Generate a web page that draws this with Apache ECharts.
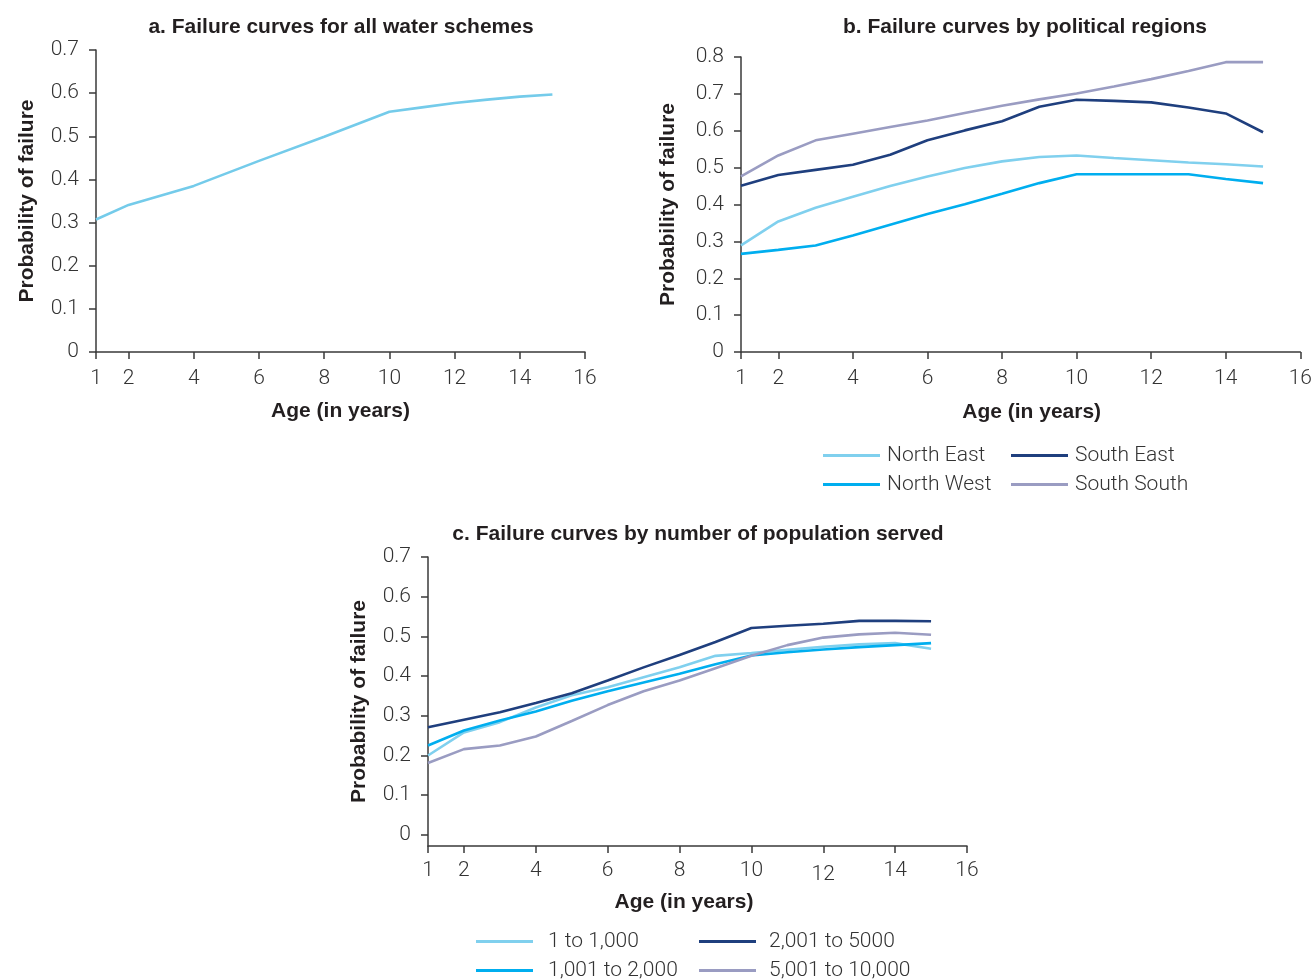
<!DOCTYPE html>
<html>
<head>
<meta charset="utf-8">
<title>Failure curves</title>
<script src="https://cdn.jsdelivr.net/npm/echarts@6/dist/echarts.min.js"></script>
<style>
  html, body { margin: 0; padding: 0; background: #fff; }
  #chart { width: 1315px; height: 980px; }
</style>
</head>
<body>
<div id="chart"></div>
<script>
// Age (years) at which each curve is sampled
const ages = [1, 2, 3, 4, 5, 6, 7, 8, 9, 10, 11, 12, 13, 14, 15];
const xTicks = [1, 2, 4, 6, 8, 10, 12, 14, 16];
const yTicks7 = [0, 0.1, 0.2, 0.3, 0.4, 0.5, 0.6, 0.7];
const yTicks8 = [0, 0.1, 0.2, 0.3, 0.4, 0.5, 0.6, 0.7, 0.8];

// a. all water schemes
const agesAll = [1, 2, 4, 6, 8, 10, 11, 12, 13, 14, 15];
const allSchemes = [0.307, 0.341, 0.385, 0.443, 0.499, 0.557, 0.567, 0.577, 0.585, 0.592, 0.597];

// b. political regions
const northEast  = [0.289, 0.354, 0.391, 0.421, 0.450, 0.476, 0.499, 0.517, 0.529, 0.533, 0.526, 0.520, 0.514, 0.509, 0.503];
const northWest  = [0.266, 0.277, 0.289, 0.316, 0.345, 0.374, 0.401, 0.429, 0.458, 0.482, 0.482, 0.482, 0.482, 0.469, 0.458];
const southEast  = [0.451, 0.480, 0.494, 0.508, 0.535, 0.574, 0.601, 0.626, 0.665, 0.684, 0.681, 0.677, 0.663, 0.647, 0.596];
const southSouth = [0.476, 0.533, 0.574, 0.592, 0.610, 0.628, 0.648, 0.668, 0.685, 0.701, 0.720, 0.740, 0.762, 0.786, 0.786];

// c. population served
const pop1to1000     = [0.200, 0.258, 0.284, 0.321, 0.352, 0.372, 0.397, 0.422, 0.451, 0.458, 0.466, 0.474, 0.480, 0.483, 0.469];
const pop1001to2000  = [0.225, 0.263, 0.288, 0.311, 0.338, 0.362, 0.384, 0.406, 0.430, 0.452, 0.460, 0.467, 0.473, 0.478, 0.483];
const pop2001to5000  = [0.271, 0.290, 0.309, 0.332, 0.357, 0.389, 0.422, 0.453, 0.486, 0.521, 0.527, 0.532, 0.539, 0.539, 0.538];
const pop5001to10000 = [0.181, 0.216, 0.225, 0.248, 0.287, 0.327, 0.362, 0.389, 0.420, 0.451, 0.478, 0.497, 0.505, 0.509, 0.504];

const C_LIGHT = '#80d0ee';
const C_MID = '#00aeef';
const C_NAVY = '#1f3f7e';
const C_LAV = '#9a9cc2';

const pair = (xs, ys) => xs.map((x, i) => [x, ys[i]]);

const TXT = '#333333';
const DARK = '#231f20';
const FONT = 'Roboto';
const BOLD = '"Liberation Sans", Arial, sans-serif';
const AXIS_COLOR = '#3a3a3a';

const nameStyle = (pad) => ({
  fontFamily: BOLD, fontWeight: 'bold', fontSize: 21, color: DARK, padding: pad || 0
});

function xAxisFor(gridIndex, opts) {
  return {
    type: 'value', gridIndex, min: 1, max: 16,
    name: 'Age (in years)', nameLocation: 'middle', nameGap: opts.nameGap,
    nameTextStyle: nameStyle(opts.namePad),
    axisLine: { show: true, onZero: false, lineStyle: { color: AXIS_COLOR, width: 1.5 } },
    axisTick: { show: true, length: 7, customValues: xTicks, lineStyle: { color: AXIS_COLOR, width: 1.5 } },
    axisLabel: Object.assign({
      customValues: xTicks, margin: opts.labelMargin,
      fontFamily: FONT, fontWeight: 300, fontSize: 21, color: TXT
    }, opts.label || {}),
    splitLine: { show: false }
  };
}

function yAxisFor(gridIndex, min, max, ticks, nameGap) {
  return {
    type: 'value', gridIndex, min, max,
    name: 'Probability of failure', nameLocation: 'middle', nameGap,
    nameTextStyle: nameStyle(),
    axisLine: { show: true, onZero: false, lineStyle: { color: AXIS_COLOR, width: 1.5 } },
    axisTick: { show: true, length: 7, customValues: ticks, lineStyle: { color: AXIS_COLOR, width: 1.5 } },
    axisLabel: {
      customValues: ticks, margin: 17, fontFamily: FONT, fontWeight: 300, fontSize: 21, color: TXT,
      formatter: v => (v === 0 ? '0' : v.toFixed(1))
    },
    splitLine: { show: false }
  };
}

function line(name, xi, yi, data, color) {
  return {
    name, type: 'line', xAxisIndex: xi, yAxisIndex: yi, data,
    showSymbol: false, symbol: 'none', smooth: false, animation: false,
    lineStyle: { color, width: 2.6 }, itemStyle: { color }
  };
}

function legendCol(left, top, names, textPad) {
  return {
    orient: 'vertical', left, top, height: 70, padding: 0, itemGap: 8,
    itemWidth: 57, itemHeight: 3, icon: 'rect',
    data: names,
    textStyle: { fontFamily: FONT, fontWeight: 300, fontSize: 21, color: TXT, padding: [0, 0, 0, textPad] }
  };
}

const titleStyle = { fontFamily: BOLD, fontWeight: 'bold', fontSize: 21, color: DARK };

const option = {
  backgroundColor: '#ffffff',
  animation: false,
  title: [
    { text: 'a. Failure curves for all water schemes', left: 341, top: 17, padding: 0, textAlign: 'center', textStyle: titleStyle },
    { text: 'b. Failure curves by political regions', left: 1025, top: 17, padding: 0, textAlign: 'center', textStyle: titleStyle },
    { text: 'c. Failure curves by number of population served', left: 698, top: 524, padding: 0, textAlign: 'center', textStyle: titleStyle }
  ],
  grid: [
    { left: 96, top: 50, width: 489, height: 302 },
    { left: 741, top: 57, width: 560, height: 295 },
    { left: 428, top: 557, width: 539, height: 289 }
  ],
  xAxis: [
    xAxisFor(0, { nameGap: 49, labelMargin: 16 }),
    xAxisFor(1, { nameGap: 50, labelMargin: 16, namePad: [0, 0, 0, 22] }),
    xAxisFor(2, {
      nameGap: 46, labelMargin: 14, namePad: [0, 27, 0, 0],
      label: {
        formatter: v => (v === 12 ? '{low|12}' : String(v)),
        rich: { low: { fontFamily: FONT, fontWeight: 300, fontSize: 21, color: TXT, padding: [4, 0, 0, 0] } }
      }
    })
  ],
  yAxis: [
    yAxisFor(0, 0, 0.7, yTicks7, 58),
    yAxisFor(1, 0, 0.8, yTicks8, 62),
    yAxisFor(2, -0.028, 0.7, yTicks7, 58)
  ],
  legend: [
    legendCol(823, 445, ['North East', 'North West'], 2),
    legendCol(1011, 445, ['South East', 'South South'], 2),
    legendCol(476, 931, ['1 to 1,000', '1,001 to 2,000'], 10),
    legendCol(699, 931, ['2,001 to 5000', '5,001 to 10,000'], 8)
  ],
  series: [
    line('All water schemes', 0, 0, pair(agesAll, allSchemes), '#74cbea'),

    line('North East', 1, 1, pair(ages, northEast), C_LIGHT),
    line('North West', 1, 1, pair(ages, northWest), C_MID),
    line('South East', 1, 1, pair(ages, southEast), C_NAVY),
    line('South South', 1, 1, pair(ages, southSouth), C_LAV),

    line('1 to 1,000', 2, 2, pair(ages, pop1to1000), C_LIGHT),
    line('1,001 to 2,000', 2, 2, pair(ages, pop1001to2000), C_MID),
    line('2,001 to 5000', 2, 2, pair(ages, pop2001to5000), C_NAVY),
    line('5,001 to 10,000', 2, 2, pair(ages, pop5001to10000), C_LAV)
  ]
};

const chart = echarts.init(document.getElementById('chart'), null, { renderer: 'canvas' });
chart.setOption(option);
</script>
</body>
</html>
